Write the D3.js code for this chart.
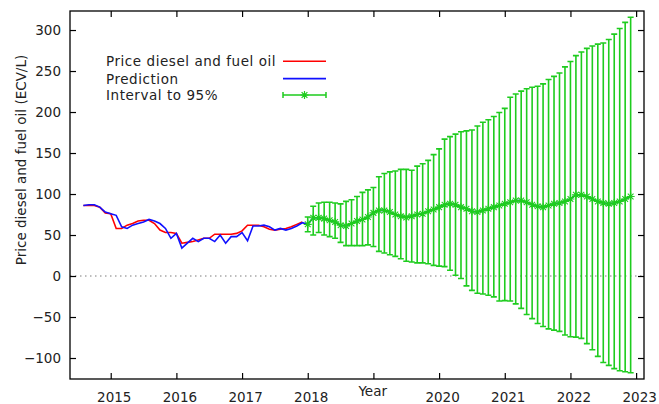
<!DOCTYPE html>
<html>
<head>
<meta charset="utf-8">
<script src="https://cdn.jsdelivr.net/npm/d3@7"></script>
<style>
body { margin: 0; background: #fff; }
#chart { width: 659px; height: 404px; }
</style>
</head>
<body>
<div id="chart"></div>
<script>

///////////////////////////////////////////////////////////////////////////////////////////////////
// data

// monthly, first month is Aug 2014
const hist_start = 2014 + 7 / 12;
const price_actual = [86, 86, 86, 84, 77, 76, 58, 58, 62, 64,
                      67, 68, 68, 64, 56, 53, 53, 52, 40, 41,
                      42, 44, 46, 46, 51, 51, 51, 51, 52, 55,
                      62, 62, 62, 60, 57, 56, 57, 58, 60, 63, 66];
const price_fitted = [86, 87, 87, 84, 78, 76, 74, 60, 58, 62,
                      64, 66, 69, 67, 64, 58, 46, 52, 34, 40,
                      46, 42, 46, 46, 42, 50, 40, 48, 48, 53,
                      43, 61, 61, 62, 60, 56, 58, 56, 58, 61, 65];

// monthly, first month is Jan 2018
const forecast_start = 2018;
const forecast_mid = [63, 71, 71, 70, 68, 66, 62, 61, 64, 67,
                      69, 72, 77, 80, 80, 78, 75, 73, 71.5, 73,
                      75, 76, 79, 81, 84, 87, 88, 87, 84, 82,
                      79, 78, 80, 82, 84, 86, 88, 90, 92, 92,
                      90, 87, 85, 84, 86, 88, 89, 91, 94, 99,
                      99, 97, 94, 91, 89, 88, 89, 91, 94, 97];
const forecast_high = [72, 85, 89, 90, 90, 89, 88, 91, 93, 97,
                       102, 105, 108, 121, 125, 127, 128, 130, 130, 129,
                       134, 137, 141, 148, 155, 167, 170, 173, 176, 177,
                       178, 183, 187.5, 190.5, 194.5, 199.5, 204.5, 218, 222, 225.5,
                       228.3, 230.2, 231.4, 234.3, 239.6, 243.5, 247.5, 255, 261.7, 268.8,
                       273.2, 277.6, 280.6, 282.8, 284.2, 288.5, 295, 301.8, 309.3, 315.5];
const forecast_low = [54, 50, 53, 50, 48, 46, 41, 37, 37, 37,
                      37, 38, 36, 30, 28, 26, 24, 21, 18, 17,
                      16, 16, 15, 13, 12, 11.5, 7, 1, -3, -12,
                      -17.5, -21, -22, -23.5, -25.5, -30.5, -30, -30.5, -34, -39.5,
                      -47, -52, -58, -61.6, -64.5, -66, -67.5, -72, -74, -74.5,
                      -76, -82.5, -90, -98, -105.5, -109, -113, -115.5, -116.7, -118];

const x_ticks = [2015, 2016, 2017, 2018, 2019, 2020, 2021, 2022, 2023];
const x_tick_labels = ["2015", "2016", "2017", "2018", "", "2020", "2021", "2022", "2023"];
const y_ticks = [-100, -50, 0, 50, 100, 150, 200, 250, 300];
const legend_labels = ["Price diesel and fuel oil", "Prediction", "Interval to 95%"];
const x_title = "Year";
const y_title = "Price diesel and fuel oil (ECV/L)";

///////////////////////////////////////////////////////////////////////////////////////////////////

function star_path(s) {
    // gnuplot point type 3: plus and cross on top of each other
    let d = s * 0.72;
    return "M" + (-s) + ",0H" + s + "M0," + (-s) + "V" + s
        + "M" + (-d) + "," + (-d) + "L" + d + "," + d
        + "M" + (-d) + "," + d + "L" + d + "," + (-d);
} // end function

///////////////////////////////////////////////////////////////////////////////////////////////////

function draw_chart(element_id) {

    var svg_width = 659, svg_height = 404;
    var margin = { top: 11, right: 15, bottom: 25, left: 70 };
    var font = '"DejaVu Sans", Verdana, sans-serif';
    var red = "#ff0000", blue = "#1010ff", green = "#1ecc1e";

    var svg = d3.select('#' + element_id)
      .append("svg")
        .attr("width", svg_width)
        .attr("height", svg_height)
        .style("background", "#fff");

    var x = d3.scaleLinear()
        .domain([2014.38, 2023.12])
        .range([margin.left, svg_width - margin.right]);
    var y = d3.scaleLinear()
        .domain([-125.6, 323.2])
        .range([svg_height - margin.bottom, margin.top]);

    let actual = price_actual.map(function(v, i) { return { t: hist_start + i / 12, v: v }; });
    let fitted = price_fitted.map(function(v, i) { return { t: hist_start + i / 12, v: v }; });
    let forecast = forecast_mid.map(function(v, i) {
        return { t: forecast_start + i / 12, v: v, hi: forecast_high[i], lo: forecast_low[i] };
    });

    // dotted zero line
    svg.append("line")
        .attr("x1", x.range()[0]).attr("x2", x.range()[1])
        .attr("y1", y(0)).attr("y2", y(0))
        .attr("stroke", "#a8a8a8")
        .attr("stroke-width", 1.5)
        .attr("stroke-dasharray", "1.5,3.5");

    // axes, ticks point inwards on all four sides
    var ax_left = svg.append("g")
        .attr("transform", "translate(" + margin.left + ",0)")
        .call(d3.axisLeft(y).tickValues(y_ticks).tickSize(-6).tickSizeOuter(0).tickPadding(9));
    var ax_right = svg.append("g")
        .attr("transform", "translate(" + (svg_width - margin.right) + ",0)")
        .call(d3.axisRight(y).tickValues(y_ticks).tickSize(-6).tickSizeOuter(0).tickFormat(""));
    var ax_bottom = svg.append("g")
        .attr("transform", "translate(0," + (svg_height - margin.bottom) + ")")
        .call(d3.axisBottom(x).tickValues(x_ticks).tickSize(-6).tickSizeOuter(0).tickPadding(13)
            .tickFormat(function(d, i) { return x_tick_labels[i]; }));
    var ax_top = svg.append("g")
        .attr("transform", "translate(0," + margin.top + ")")
        .call(d3.axisTop(x).tickValues(x_ticks).tickSize(-6).tickSizeOuter(0).tickFormat(""));

    [ax_left, ax_right, ax_bottom, ax_top].forEach(function(g) {
        g.attr("font-family", font).attr("font-size", 13.5);
        g.select(".domain").remove();
        g.selectAll(".tick line").attr("stroke", "#000").attr("stroke-width", 1.2);
        g.selectAll(".tick text").attr("fill", "#222");
    });
    ax_bottom.selectAll(".tick text").attr("dx", 3);

    // frame
    svg.append("rect")
        .attr("x", margin.left)
        .attr("y", margin.top)
        .attr("width", svg_width - margin.left - margin.right)
        .attr("height", svg_height - margin.top - margin.bottom)
        .attr("fill", "none")
        .attr("stroke", "#000")
        .attr("stroke-width", 1.3);

    var line = d3.line()
        .x(function(d) { return x(d.t); })
        .y(function(d) { return y(d.v); });

    svg.append("path")
        .datum(actual)
        .attr("d", line)
        .attr("fill", "none")
        .attr("stroke", red)
        .attr("stroke-width", 1.6);

    svg.append("path")
        .datum(fitted.concat(forecast))
        .attr("d", line)
        .attr("fill", "none")
        .attr("stroke", blue)
        .attr("stroke-width", 1.6);

    // 95% interval: error bars with caps, line and star points
    var bars = svg.append("g")
        .attr("stroke", green)
        .attr("stroke-width", 1.6)
        .attr("fill", "none");

    bars.selectAll(".bar")
        .data(forecast)
        .join("path")
        .attr("class", "bar")
        .attr("d", function(d) {
            let px = x(d.t), y1 = y(d.hi), y2 = y(d.lo);
            return "M" + px + "," + y1 + "V" + y2
                + "M" + (px - 3) + "," + y1 + "H" + (px + 3)
                + "M" + (px - 3) + "," + y2 + "H" + (px + 3);
        });

    bars.append("path")
        .datum(forecast)
        .attr("d", line);

    bars.selectAll(".pt")
        .data(forecast)
        .join("path")
        .attr("class", "pt")
        .attr("stroke-width", 1.1)
        .attr("transform", function(d) { return "translate(" + x(d.t) + "," + y(d.v) + ")"; })
        .attr("d", star_path(4));

    // axis titles
    svg.append("text")
        .attr("x", 372.7)
        .attr("y", 396)
        .attr("text-anchor", "middle")
        .attr("font-family", font)
        .attr("font-size", 13.5)
        .attr("fill", "#222")
        .text(x_title);

    svg.append("text")
        .attr("transform", "translate(26,160) rotate(-90)")
        .attr("text-anchor", "middle")
        .attr("font-family", font)
        .attr("font-size", 13.5)
        .attr("fill", "#222")
        .text(y_title);

    // legend
    let legend_y = [61.3, 78.6, 95.0];
    let legend = svg.append("g");
    legend_labels.forEach(function(label, i) {
        legend.append("text")
            .attr("x", 106)
            .attr("y", legend_y[i] + 5)
            .attr("font-family", font)
            .attr("font-size", 13.5)
            .attr("letter-spacing", 0.55)
            .attr("fill", "#222")
            .text(label);
    });
    legend.append("line")
        .attr("x1", 283).attr("x2", 326).attr("y1", legend_y[0]).attr("y2", legend_y[0])
        .attr("stroke", red).attr("stroke-width", 1.6);
    legend.append("line")
        .attr("x1", 283).attr("x2", 326).attr("y1", legend_y[1]).attr("y2", legend_y[1])
        .attr("stroke", blue).attr("stroke-width", 1.6);
    legend.append("path")
        .attr("d", "M283," + legend_y[2] + "H326"
            + "M283," + (legend_y[2] - 3) + "V" + (legend_y[2] + 3)
            + "M326," + (legend_y[2] - 3) + "V" + (legend_y[2] + 3))
        .attr("stroke", green).attr("stroke-width", 1.5).attr("fill", "none");
    legend.append("path")
        .attr("transform", "translate(304.5," + legend_y[2] + ")")
        .attr("d", star_path(4))
        .attr("stroke", green).attr("stroke-width", 1.2).attr("fill", "none");

} // end function

draw_chart("chart");

</script>
</body>
</html>
